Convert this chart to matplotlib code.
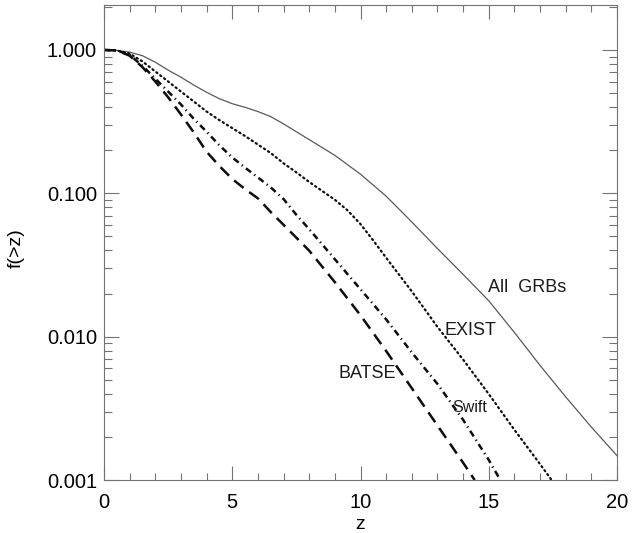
import matplotlib
matplotlib.use("Agg")
import matplotlib.pyplot as plt
from matplotlib.ticker import FixedLocator, LogLocator, NullFormatter, FixedFormatter

plt.rcParams['font.family'] = ['Liberation Sans', 'DejaVu Sans']

# ---- data ----
z_all = [0, 0.5, 1.0, 1.5, 2.0, 2.5, 3.0, 3.5, 4.0, 4.5, 5.0, 5.5, 6.0, 6.5, 7.0, 7.5,
         8.0, 9.0, 10.0, 11.0, 12.0, 13.0, 14.0, 15.0, 16.0, 17.0, 18.0, 19.0, 20.0]
f_all = [1.0, 0.993, 0.966, 0.912, 0.822, 0.724, 0.646, 0.569, 0.507, 0.457, 0.422,
         0.398, 0.372, 0.343, 0.305, 0.269, 0.237, 0.184, 0.136, 0.0955, 0.0631,
         0.0412, 0.0272, 0.0178, 0.0107, 0.0063, 0.0038, 0.00234, 0.00148]

z_exist = [0, 0.5, 1.0, 1.5, 2.0, 2.5, 3.0, 3.5, 4.0, 4.5, 5.0, 5.5, 6.0, 6.5, 7.0,
           7.5, 8.0, 8.5, 9.0, 9.5, 10.0, 10.5, 11.0, 12.0, 13.0, 14.0, 15.0, 16.0,
           17.0, 17.45]
f_exist = [1.0, 0.993, 0.944, 0.832, 0.708, 0.603, 0.513, 0.437, 0.372, 0.324, 0.285,
           0.251, 0.219, 0.191, 0.162, 0.140, 0.120, 0.104, 0.0902, 0.0759, 0.0610,
           0.0468, 0.0355, 0.0207, 0.0117, 0.00692, 0.00398, 0.00224, 0.00129, 0.00100]

z_swift = [0, 0.5, 1.0, 1.5, 2.0, 2.5, 3.0, 3.5, 4.0, 4.5, 5.0, 5.5, 6.0, 6.5, 7.0,
           7.5, 8.0, 9.0, 10.0, 11.0, 12.0, 13.0, 14.0, 15.0, 15.45]
f_swift = [1.0, 0.993, 0.923, 0.776, 0.631, 0.513, 0.417, 0.331, 0.269, 0.216, 0.178,
           0.151, 0.129, 0.110, 0.0912, 0.0708, 0.0562, 0.0347, 0.0214, 0.0132,
           0.00776, 0.00468, 0.00263, 0.00138, 0.00100]

z_batse = [0, 0.5, 1.0, 1.5, 2.0, 2.5, 3.0, 3.5, 4.0, 4.5, 5.0, 5.5, 6.0, 6.5, 7.0,
           7.5, 8.0, 9.0, 10.0, 11.0, 12.0, 13.0, 14.0, 14.45]
f_batse = [1.0, 0.993, 0.912, 0.759, 0.603, 0.468, 0.355, 0.266, 0.195, 0.155, 0.126,
           0.107, 0.0923, 0.0741, 0.0603, 0.0490, 0.0398, 0.0240, 0.0141, 0.00794,
           0.00437, 0.00240, 0.00132, 0.00100]

x_ticks = [0, 5, 10, 15, 20]
y_ticks = [0.001, 0.010, 0.100, 1.000]
y_tick_labels = ["0.001", "0.010", "0.100", "1.000"]

labels = ["All  GRBs", "EXIST", "Swift", "BATSE"]
label_z = [14.97, 13.29, 13.56, 9.14]
label_f = [0.0222, 0.0111, 0.00323, 0.00555]
label_size = [13, 13, 11.5, 13]

# ---- figure ----
fig = plt.figure(figsize=(6.39, 5.33), dpi=100)
ax = fig.add_axes([104/639, 1 - 480/533, 513/639, 475/533])

lc = '0.05'
ax.plot(z_all, f_all, color='0.35', lw=0.9, solid_joinstyle='round')
ax.plot(z_exist, f_exist, color=lc, lw=1.6, linestyle=(0, (0.6, 1.6)), dash_capstyle='round')
ax.plot(z_swift, f_swift, color=lc, lw=1.8, linestyle=(0, (2.6, 1.6, 0.5, 1.6)))
ax.plot(z_batse, f_batse, color=lc, lw=1.8, linestyle=(0, (4.8, 2.8)))

ax.set_yscale('log')
ax.set_xlim(0, 20)
ax.set_ylim(0.001, 2.06)

ax.xaxis.set_major_locator(FixedLocator(x_ticks))
ax.xaxis.set_minor_locator(FixedLocator(list(range(0, 21))))
ax.yaxis.set_major_locator(FixedLocator(y_ticks))
ax.yaxis.set_major_formatter(FixedFormatter(y_tick_labels))
ax.yaxis.set_minor_locator(LogLocator(base=10, subs=range(2, 10)))
ax.yaxis.set_minor_formatter(NullFormatter())

spc = '0.45'
for s in ax.spines.values():
    s.set_color(spc)
    s.set_linewidth(0.8)

ax.tick_params(axis='both', which='both', direction='in', top=True, right=True,
               color=spc, width=0.8, labelsize=14.5)
ax.tick_params(axis='x', which='major', length=10, pad=9)
ax.tick_params(axis='x', which='minor', length=5)
ax.tick_params(axis='y', which='major', length=11, pad=5)
ax.tick_params(axis='y', which='minor', length=6)

ax.set_xlabel('z', fontsize=14, labelpad=3)
ax.set_ylabel('f(>z)', fontsize=14)
ax.yaxis.set_label_coords(-0.154, 0.489)

for t, zx, fy, sz in zip(labels, label_z, label_f, label_size):
    ax.text(zx, fy, t, fontsize=sz, ha='left', va='center', color='0.1')

fig.savefig('out.png', dpi=100)
